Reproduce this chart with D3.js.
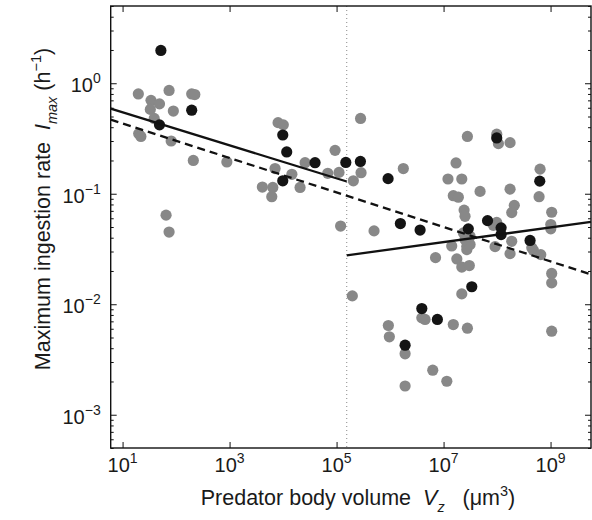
<!DOCTYPE html>
<html><head><meta charset="utf-8">
<script src="https://cdn.jsdelivr.net/npm/d3@7"></script>
<style>body{margin:0;background:#fff}svg{display:block}text{font-family:"Liberation Sans",Arial,Helvetica,sans-serif;fill:#1a1a1a}</style>
</head><body><div id="chart"></div>
<script>
// Gray points (Vz in µm^3, Imax in h^-1)
const grayVz = [19.7,74,34,49,33,196,224,89,39,20,22,81,210,890,65,74,8070,10100,25800,93800,7080,14600,68500,111000,4100,6430,6150,20800,119000,
  2.81e5,2.87e5,2.06e5,1.77e6,2.79e7,9.86e7,1.06e8,1.75e8,1.71e7,1.21e7,2.19e7,1.52e7,1.89e7,4.81e7,1.75e8,6.37e8,6.10e8,2.10e8,1.88e8,2.42e7,2.52e7,1.05e9,1.01e9,1.01e9,5.02e5,9.86e7,8.53e7,2.35e7,2.72e7,1.88e8,1.42e7,2.72e7,9.18e7,4.46e8,7.08e6,1.77e7,2.19e7,3.03e7,2.72e7,3.13e7,2.52e7,3.13e7,2.19e7,3.92e6,4.51e6,1.52e7,2.79e7,9.29e5,9.70e5,1.91e6,1.91e6,6.28e6,1.15e7,1.75e8,4.77e8,6.56e8,1.05e9,1.05e9,1.05e9,1.97e5];
const grayImax = [0.80,0.86,0.70,0.65,0.58,0.80,0.79,0.56,0.48,0.35,0.33,0.30,0.20,0.194,0.064,0.045,0.44,0.42,0.191,0.247,0.169,0.150,0.153,0.156,0.115,0.114,0.094,0.114,0.051,
  0.48,0.155,0.131,0.169,0.33,0.346,0.284,0.290,0.190,0.136,0.136,0.096,0.093,0.105,0.110,0.167,0.094,0.0785,0.0675,0.0711,0.0625,0.068,0.0526,0.0481,0.0461,0.0551,0.0518,0.0442,0.0457,0.0371,0.0337,0.0334,0.0332,0.0324,0.0264,0.0257,0.0217,0.0224,0.0312,0.0347,0.0385,0.0412,0.0124,0.00753,0.00728,0.00655,0.00607,0.00642,0.00507,0.00356,0.00182,0.00253,0.00201,0.0287,0.0308,0.0281,0.0190,0.0156,0.00570,0.0119];
// Black points
const blackVz = [52,196,49,9870,11700,39600,9870,1.49e5,
  2.79e5,9.18e5,9.86e7,6.28e8,1.56e6,3.64e6,2.90e7,6.64e7,1.19e8,1.19e8,4.14e8,3.37e7,3.92e6,7.66e6,1.91e6];
const blackImax = [1.98,0.57,0.42,0.34,0.239,0.191,0.131,0.192,
  0.196,0.137,0.32,0.130,0.0537,0.0469,0.0481,0.0571,0.0491,0.0427,0.0378,0.0144,0.00914,0.00728,0.00426];
// Fitted lines (end points)
const breakVz = 1.55e5;
const fitSmallVz = [6, 1.55e5], fitSmallImax = [0.59, 0.129];
const fitLargeVz = [1.55e5, 5.7e9], fitLargeImax = [0.0277, 0.0556];
const fitAllVz = [6, 5.7e9], fitAllImax = [0.468, 0.0186];
// Ticks
const xTickValues = [1e1,1e3,1e5,1e7,1e9];
const xTickExps = ["1","3","5","7","9"];
const yTickValues = [1,1e-1,1e-2,1e-3];
const yTickExps = ["0","\u22121","\u22122","\u22123"];

const W = 592, H = 520;
const m = {left:110.7, top:6, right:1, bottom:72};
const iw = W - m.left - m.right, ih = H - m.top - m.bottom;
const svg = d3.select("#chart").append("svg").attr("width",W).attr("height",H);
const g = svg.append("g").attr("transform",`translate(${m.left},${m.top})`);
const x = d3.scaleLog().domain([6, 5.7e9]).range([0, iw]);
const y = d3.scaleLog().domain([5e-4, 5]).range([ih, 0]);

// minor y ticks
const yMinor = [];
for (let d = -4; d <= 0; d++) for (let k = 2; k <= 9; k++) { const v = k*Math.pow(10,d); if (v>=5e-4 && v<=5) yMinor.push(v); }

function styleAxis(sel){ sel.select(".domain").remove(); sel.selectAll("line").attr("stroke","#111").attr("stroke-width",1); sel.selectAll("text").remove(); }
g.append("g").attr("transform",`translate(0,${ih})`).call(d3.axisBottom(x).tickValues(xTickValues).tickSizeInner(-6).tickSizeOuter(0)).call(styleAxis);
g.append("g").call(d3.axisTop(x).tickValues(xTickValues).tickSizeInner(-6).tickSizeOuter(0)).call(styleAxis);
g.append("g").call(d3.axisLeft(y).tickValues(yTickValues).tickSizeInner(-6).tickSizeOuter(0)).call(styleAxis);
g.append("g").call(d3.axisLeft(y).tickValues(yMinor).tickSizeInner(-3).tickSizeOuter(0)).call(styleAxis);
g.append("g").attr("transform",`translate(${iw},0)`).call(d3.axisRight(y).tickValues(yTickValues).tickSizeInner(-6).tickSizeOuter(0)).call(styleAxis);
g.append("g").attr("transform",`translate(${iw},0)`).call(d3.axisRight(y).tickValues(yMinor).tickSizeInner(-3).tickSizeOuter(0)).call(styleAxis);

// dotted break line
g.append("line").attr("x1",x(breakVz)).attr("x2",x(breakVz)).attr("y1",0).attr("y2",ih)
  .attr("stroke","#888").attr("stroke-width",1).attr("stroke-dasharray","1,3");

// points
g.append("g").selectAll("circle").data(grayVz.map((v,i)=>[v,grayImax[i]])).join("circle")
  .attr("cx",d=>x(d[0])).attr("cy",d=>y(d[1])).attr("r",5.6).attr("fill","#888888");
g.append("g").selectAll("circle").data(blackVz.map((v,i)=>[v,blackImax[i]])).join("circle")
  .attr("cx",d=>x(d[0])).attr("cy",d=>y(d[1])).attr("r",5.6).attr("fill","#141414");

// fit lines
const line = d3.line().x(d=>x(d[0])).y(d=>y(d[1]));
g.append("path").attr("d",line(fitSmallVz.map((v,i)=>[v,fitSmallImax[i]]))).attr("stroke","#111").attr("stroke-width",2.3).attr("fill","none");
g.append("path").attr("d",line(fitLargeVz.map((v,i)=>[v,fitLargeImax[i]]))).attr("stroke","#111").attr("stroke-width",2.3).attr("fill","none");
g.append("path").attr("d",line(fitAllVz.map((v,i)=>[v,fitAllImax[i]]))).attr("stroke","#111").attr("stroke-width",2.3).attr("fill","none").attr("stroke-dasharray","8,5");

// frame
g.append("rect").attr("width",iw).attr("height",ih).attr("fill","none").attr("stroke","#111").attr("stroke-width",1.4);

// tick labels
xTickValues.forEach((v,i)=>{
  const t = svg.append("text").attr("x",m.left+x(v)).attr("y",m.top+ih+24).attr("text-anchor","middle").style("font-size","20px");
  t.append("tspan").text("10");
  t.append("tspan").attr("dy",-9).style("font-size","14px").text(xTickExps[i]);
});
yTickValues.forEach((v,i)=>{
  const t = svg.append("text").attr("x",m.left-10).attr("y",m.top+y(v)+9).attr("text-anchor","end").style("font-size","20px");
  t.append("tspan").text("10");
  t.append("tspan").attr("dy",-9).style("font-size","14px").text(yTickExps[i]);
});

// axis titles
const xt = svg.append("text").attr("x",358).attr("y",505).attr("text-anchor","middle").style("font-size","21.5px");
xt.append("tspan").text("Predator body volume\u00a0\u00a0");
xt.append("tspan").style("font-style","italic").text("V");
xt.append("tspan").attr("dy",7).style("font-style","italic").style("font-size","14.5px").text("z");
xt.append("tspan").attr("dy",-7).text("\u00a0\u00a0\u00a0(\u03bcm");
xt.append("tspan").attr("dy",-9).style("font-size","14.5px").text("3");
xt.append("tspan").attr("dy",9).text(")");

const yt = svg.append("text").attr("transform","translate(50,209) rotate(-90)").attr("text-anchor","middle").style("font-size","21.5px");
yt.append("tspan").text("Maximum ingestion rate\u00a0\u00a0");
yt.append("tspan").style("font-style","italic").text("I");
yt.append("tspan").attr("dy",7).style("font-style","italic").style("font-size","14.5px").text("max");
yt.append("tspan").attr("dy",-7).text("\u00a0(h");
yt.append("tspan").attr("dy",-9).style("font-size","14.5px").text("\u22121");
yt.append("tspan").attr("dy",9).text(")");
</script></body></html>
